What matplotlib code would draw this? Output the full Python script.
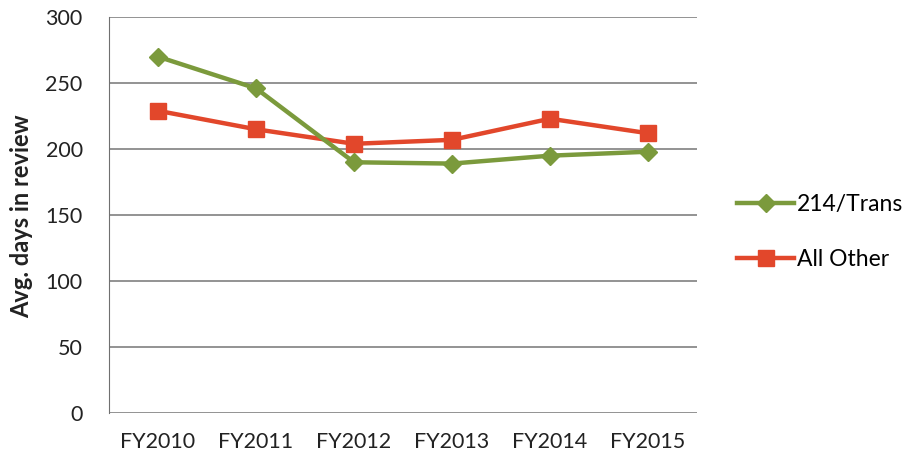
import matplotlib.pyplot as plt
from matplotlib.lines import Line2D

years = ["FY2010", "FY2011", "FY2012", "FY2013", "FY2014", "FY2015"]
trans_214 = [270, 246, 190, 189, 195, 198]
all_other = [229, 215, 204, 207, 223, 212]

green = '#7b9a3c'
red = '#e2472b'

plt.rcParams['font.family'] = ['Lato', 'DejaVu Sans']

fig = plt.figure(figsize=(9.11, 4.62), dpi=100)
ax = fig.add_axes([0.1197, 0.106, 0.6454, 0.857])

x = list(range(len(years)))
ax.plot(x, trans_214, color=green, linewidth=3.2, marker='D', markersize=9, zorder=4)
ax.plot(x, all_other, color=red, linewidth=3.2, marker='s', markersize=12, zorder=3)

ax.set_xlim(-0.5, 5.5)
ax.set_ylim(0, 300)
ax.set_yticks(range(0, 301, 50))
ax.set_xticks(x)
ax.set_xticklabels(years)
ax.yaxis.grid(True, color='#808080', linewidth=1.2)
ax.set_axisbelow(True)
for side in ['top', 'right', 'bottom']:
    ax.spines[side].set_visible(False)
ax.spines['left'].set_color('#707070')
ax.tick_params(axis='both', length=0, labelsize=15.5, colors='#222222')
ax.tick_params(axis='x', pad=14)
ax.tick_params(axis='y', pad=19)
ax.set_ylabel("Avg. days in review", fontsize=17, fontweight='bold', color='#222222')
ax.yaxis.set_label_coords(-0.129, 0.497)

handles = [
    Line2D([], [], color=green, linewidth=3.2, marker='D', markersize=9),
    Line2D([], [], color=red, linewidth=3.2, marker='s', markersize=12),
]
fig.legend(handles, ["214/Trans", "All Other"], loc='center left',
           bbox_to_anchor=(0.809, 0.498), frameon=False, fontsize=16.5,
           borderaxespad=0, borderpad=0,
           handlelength=2.5, handletextpad=0.1, labelspacing=1.45)

fig.savefig('out.png', dpi=100)
